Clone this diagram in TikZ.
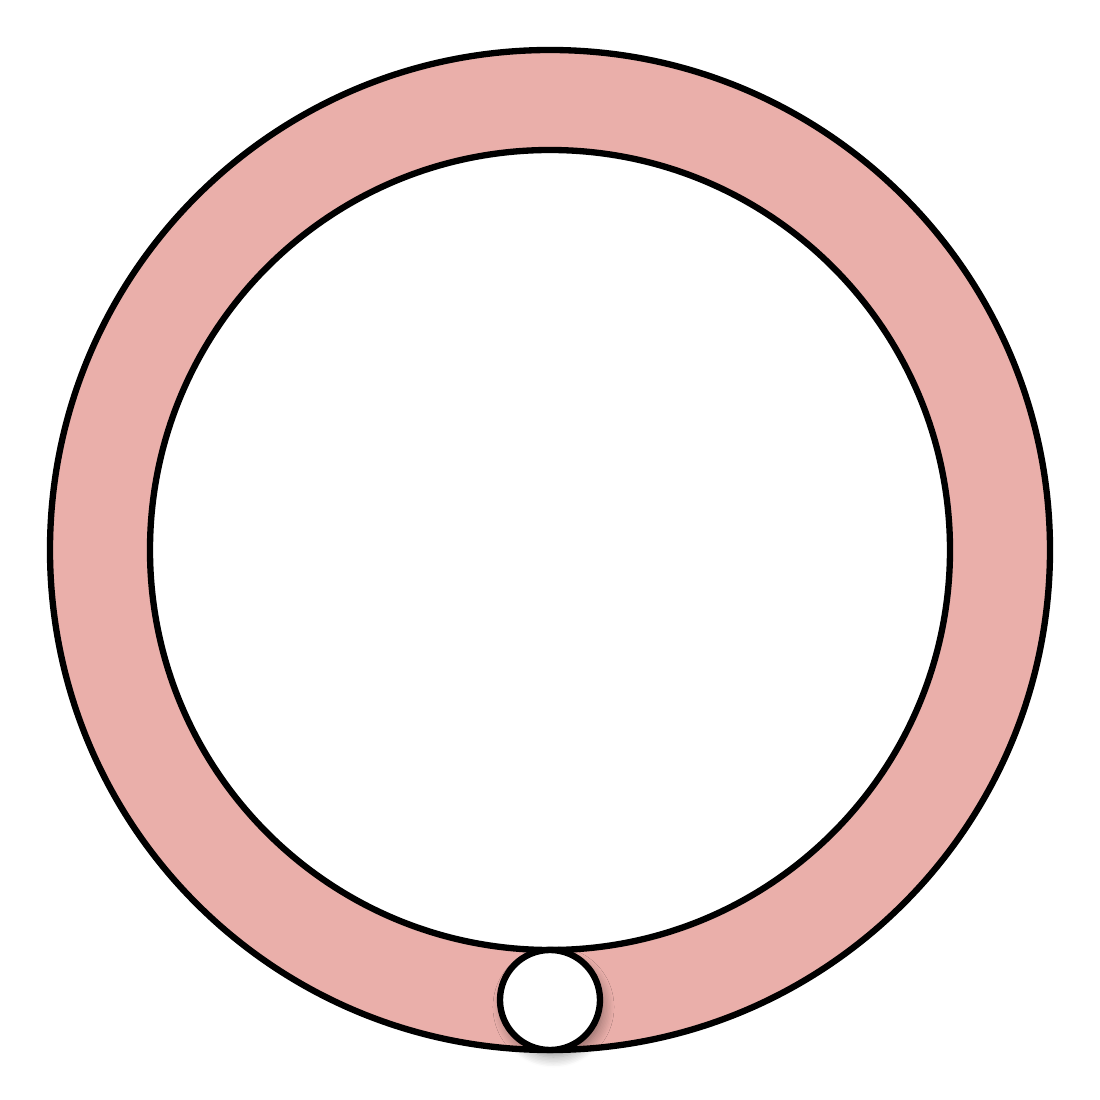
\documentclass[tikz,border=0pt]{standalone}
\usepackage{tikz}
\usetikzlibrary{shadows.blur}

\definecolor{ringpink}{RGB}{234,175,170}

\begin{document}
\begin{tikzpicture}[
        ringbox/.style={circle, draw=black, line width=1.8pt, inner sep=0pt, outer sep=0pt},
        holebox/.style={ringbox, fill=white, blur shadow={shadow xshift=1pt, shadow yshift=-2pt, shadow blur radius=3pt, shadow blur steps=8, shadow opacity=40}}
        ]
        \useasboundingbox (-5.5,-5.5) rectangle (5.5,5.5);

        % ring
        \node[ringbox, fill=ringpink, minimum size=10cm] (outer) at (0,0) {};
        \node[ringbox, fill=white, minimum size=8cm] (inner) at (outer.center) {};

        % hole at the bottom of the ring
        \node[holebox, minimum size=1cm] (hole) at (0,-4.5) {};

    \end{tikzpicture}
\end{document}
